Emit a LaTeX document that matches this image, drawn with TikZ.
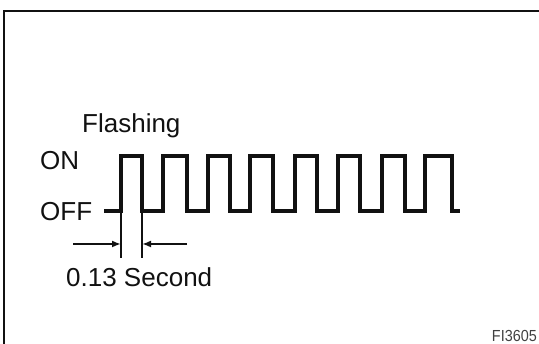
\documentclass[tikz,border=0pt]{standalone}
\usepackage{fontspec}
\setmainfont{Liberation Sans}
\usepackage{tikz}
\usetikzlibrary{arrows.meta,positioning}
\usepackage{xcolor}
\definecolor{Ink}{HTML}{111111}

\begin{document}
\begin{tikzpicture}[x=1pt,y=-1pt,
  label/.style={anchor=base west,inner sep=0pt,font=\fontsize{26}{26}\selectfont,text=Ink},
  wave/.style={line width=3.3pt,draw=Ink,line join=miter},
  guide/.style={line width=2pt,draw=Ink},
  arrow/.style={-{Latex[length=9pt,width=7pt]},line width=2pt,draw=Ink}
]
  \useasboundingbox (0,0) rectangle (539,344);
  \draw[line width=2.6pt,Ink] (4,346) -- (4,11) -- (541,11);
  % signal
  \node[label] (flash) at (82,133) {Flashing};
  \node[label] (on) at (40,170) {ON};
  \node[label] (off) at (40,221) {OFF};
  \draw[wave] (104,211)
    \foreach \r/\f in {121/142,163/187,208/230,250/273,295/317,338/360,382/405,425/452}
      { -- (\r,211) -- (\r,156) -- (\f,156) -- (\f,211) } -- (460,211);
  % period mark
  \coordinate (riseA) at (121,211);
  \coordinate (riseB) at (121,258);
  \coordinate (fallA) at (142,211);
  \coordinate (fallB) at (142,258);
  \coordinate (leftEnd) at (73,244);
  \coordinate (leftTip) at (121,244);
  \coordinate (rightEnd) at (187,244);
  \coordinate (rightTip) at (142,244);
  \draw[guide] (riseA) -- (riseB);
  \draw[guide] (fallA) -- (fallB);
  \draw[arrow] (leftEnd) -- (leftTip);
  \draw[arrow] (rightEnd) -- (rightTip);
  \node[label] (period) at (66,287) {0.13 Second};
  \node[anchor=base east,inner sep=0pt,font=\fontsize{16}{16}\selectfont,text=Ink!80,xscale=0.9] (code) at (537,342) {FI3605};
\end{tikzpicture}
\end{document}
